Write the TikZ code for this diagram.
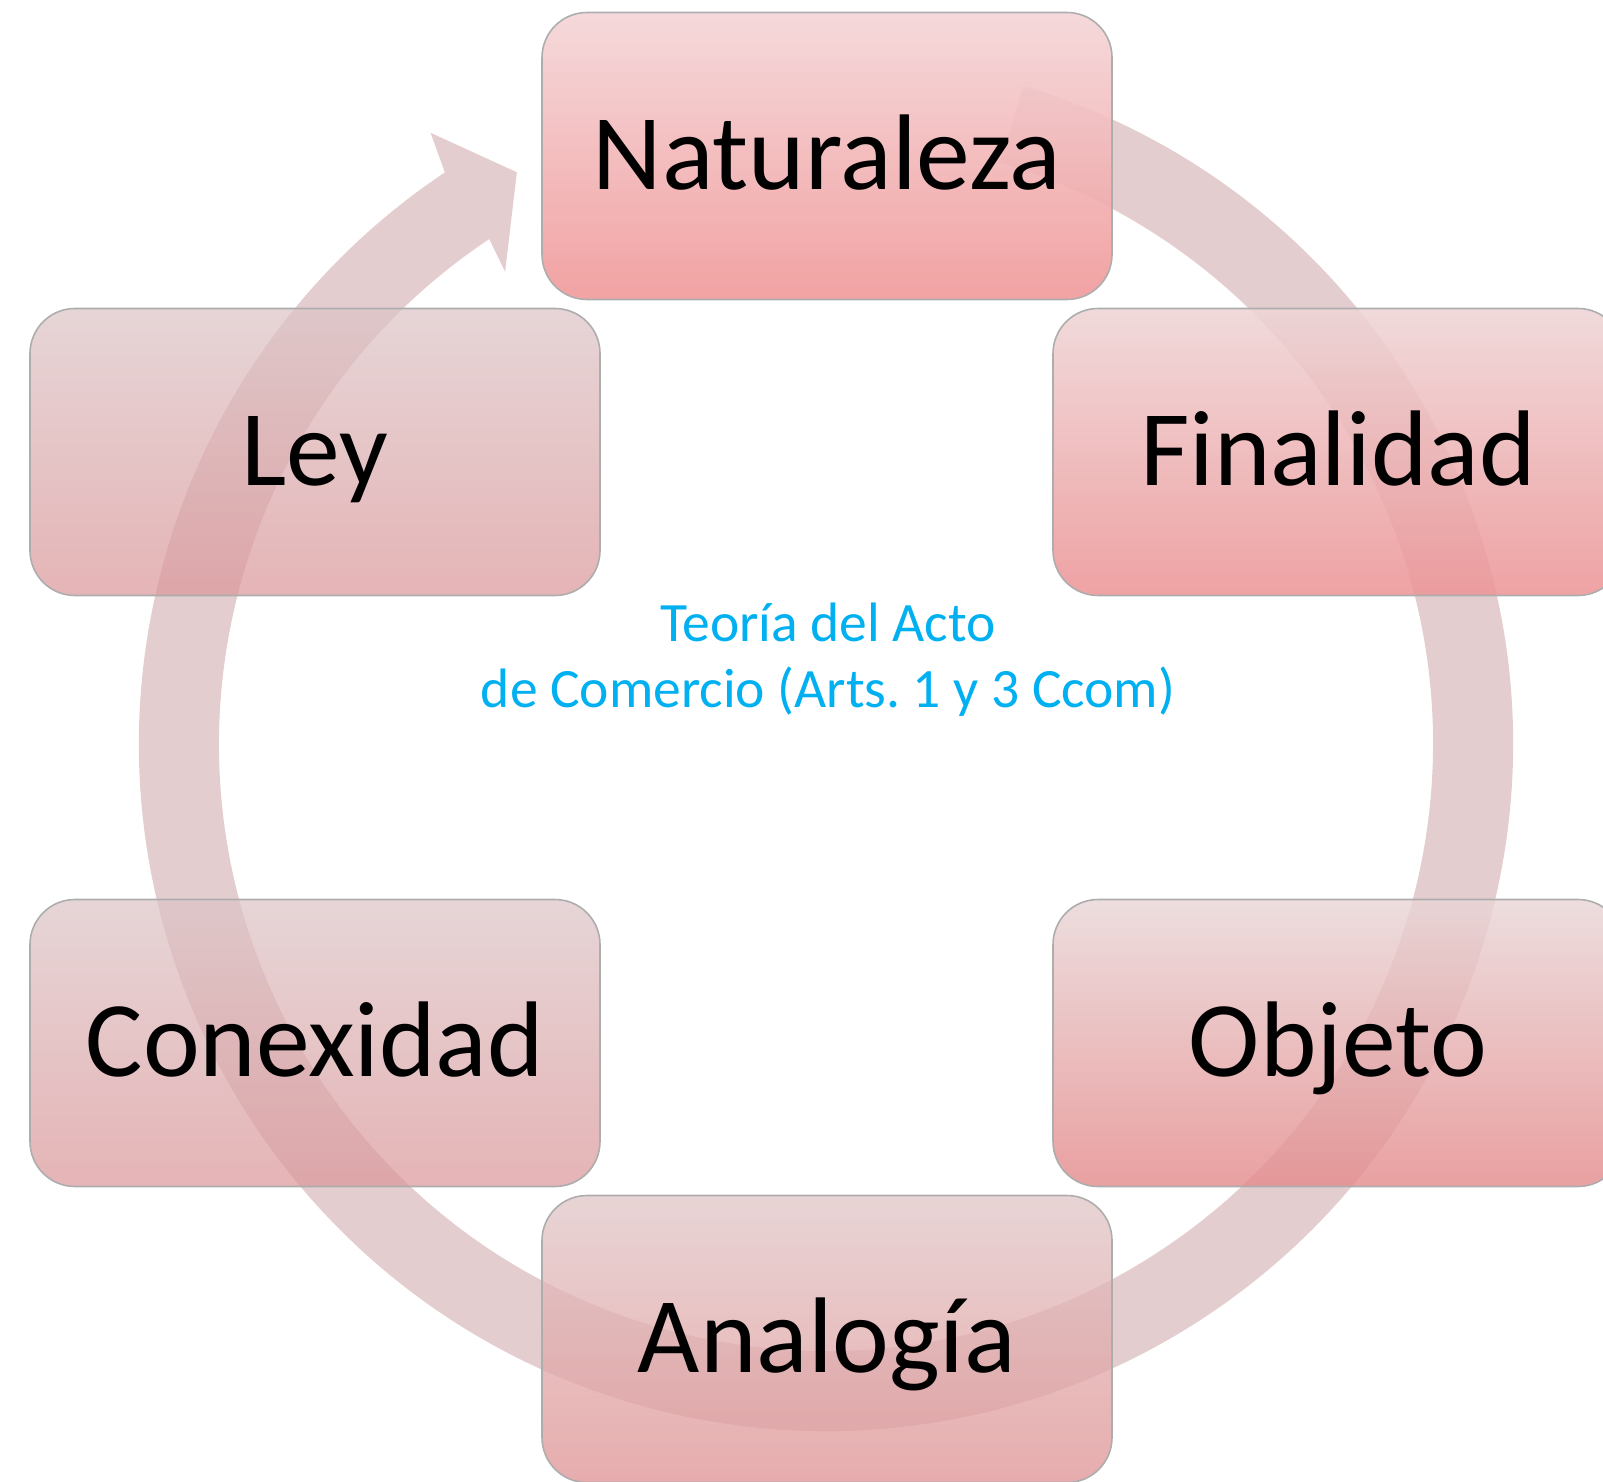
\documentclass[tikz,border=0pt]{standalone}
\usepackage{fontspec}
\setmainfont{Carlito}
\frenchspacing
\usetikzlibrary{calc}

\definecolor{ringpink}{HTML}{E4CDCF}
\definecolor{teoriacyan}{HTML}{00B0F0}
\definecolor{natTop}{HTML}{F4D6D8}
\definecolor{natBot}{HTML}{F19A9B}
\definecolor{finTop}{HTML}{EED5D6}
\definecolor{finBot}{HTML}{ED9597}
\definecolor{objTop}{HTML}{E9D6D7}
\definecolor{objBot}{HTML}{E48B8C}
\definecolor{anaTop}{HTML}{E2C8C9}
\definecolor{anaBot}{HTML}{E09596}
\definecolor{conTop}{HTML}{DCC5C7}
\definecolor{conBot}{HTML}{DB979A}

\tikzset{
  stage/.style n args={3}{draw=black!32, line width=0.45pt, rounded corners=0.45cm,
    minimum width=5.7cm, minimum height=2.87cm, inner sep=0pt,
    top color=#1, bottom color=#2, fill opacity=#3, text opacity=1,
    text height=18.9pt, text depth=0pt, font=\fontsize{30.6}{36}\selectfont}
}

\begin{document}
\begin{tikzpicture}
\useasboundingbox (0,0) rectangle (16.03,-14.81);

% cycle arrow behind the boxes
\coordinate (hub) at (8.26,-7.44);
\fill[ringpink] ($(hub)+(73.3:6.87cm)$) arc[start angle=73.3, end angle=-236.3, radius=6.87cm]
    -- ($(hub)+(122.9:7.28cm)$) -- ($(hub)+(118.4:6.50cm)$) -- ($(hub)+(124.2:5.71cm)$)
    -- ($(hub)+(123.7:6.07cm)$) arc[start angle=-236.3, end angle=73.3, radius=6.07cm] -- cycle;

\node[stage={natTop}{natBot}{0.92}] (naturaleza) at (8.27,-1.56) {Naturaleza};
\node[stage={finTop}{finBot}{0.88}] (finalidad) at (13.38,-4.52) {Finalidad};
\node[stage={objTop}{objBot}{0.82}] (objeto) at (13.38,-10.43) {Objeto};
\node[stage={anaTop}{anaBot}{0.78}] (analogia) at (8.27,-13.39) {Analogía};
\node[stage={conTop}{conBot}{0.72}] (conexidad) at (3.15,-10.43) {Conexidad};
\node[stage={conTop}{conBot}{0.72}] (ley) at (3.15,-4.52) {Ley};

\node[font=\fontsize{15.8}{18.8}\selectfont, text=teoriacyan, align=center] (teoria) at (8.28,-6.60)
    {Teoría del Acto\\de Comercio (Arts. 1 y 3 Ccom)};
\end{tikzpicture}
\end{document}
